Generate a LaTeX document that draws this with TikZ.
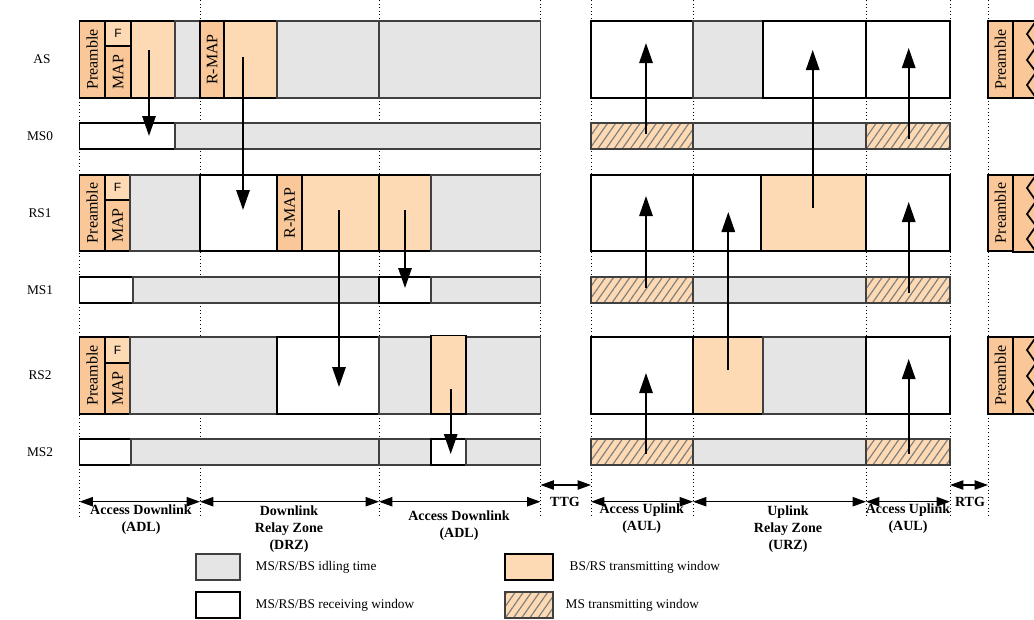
\documentclass[tikz,border=0pt]{standalone}
\usepackage{fontspec}
\setmainfont{Liberation Serif}
\setsansfont{Liberation Sans}
\usepackage{graphicx}
\usetikzlibrary{arrows.meta,positioning,patterns.meta}
\definecolor{idlegray}{RGB}{229,229,229}
\definecolor{txpeach}{RGB}{253,217,180}
\definecolor{ctrlpeach}{RGB}{250,200,152}
% one slot of the frame: style, name, x1, x2, y1, y2, text
\newcommand{\slotbox}[7]{%
  \node[#1,minimum width={(#4-#3)*0.75pt},minimum height={(#6-#5)*0.75pt}] (#2) at ({(#3+#4)/2},{(#5+#6)/2}) {#7};}

\begin{document}
\begin{tikzpicture}[x=0.75pt,y=-0.75pt,
  cellbase/.style={rectangle,inner sep=0pt,outer sep=0pt},
  idle/.style={cellbase,fill=idlegray,draw=black!75,line width=0.8pt},
  recv/.style={cellbase,fill=white,draw=black,line width=1.2pt},
  txw/.style={cellbase,fill=txpeach,draw=black,line width=1.3pt},
  ctrl/.style={cellbase,fill=ctrlpeach,draw=black,line width=1.3pt,font=\fontsize{12}{12}\selectfont},
  fbox/.style={cellbase,fill=txpeach,draw=black,line width=1.3pt,font=\sffamily\fontsize{9}{9}\selectfont},
  mstx/.style={cellbase,preaction={fill=txpeach},pattern={Lines[angle=55,distance=5pt,line width=0.9pt]},
    pattern color=gray,draw=black!75,line width=0.8pt},
  rowlab/.style={font=\fontsize{10}{12}\selectfont},
  zonelab/.style={font=\bfseries\fontsize{10.5}{12.75}\selectfont,align=center},
  leglab/.style={font=\fontsize{10}{12}\selectfont,anchor=west},
  sig/.style={-{Triangle[length=15pt,width=10pt]},line width=1.4pt},
  dim/.style={{Triangle[length=10pt,width=7pt]}-{Triangle[length=10pt,width=7pt]},line width=0.9pt},
  zone/.style={dotted,line width=0.7pt}
]
  \useasboundingbox (0,0) rectangle (1034,619);

  % zone boundaries
  \draw[zone] (79.5,98) -- (79.5,517);
  \foreach \bx in {200,379,540.5,591,693,866,950,988}
    \draw[zone] (\bx,0) -- (\bx,517);

  % row labels
  \node[rowlab] (lAS) at (42,59) {AS};
  \node[rowlab] (lMS0) at (40,136) {MS0};
  \node[rowlab] (lRS1) at (40,213) {RS1};
  \node[rowlab] (lMS1) at (40,290) {MS1};
  \node[rowlab] (lRS2) at (40,375) {RS2};
  \node[rowlab] (lMS2) at (40,452) {MS2};

  % AS
  \slotbox{ctrl}{asPre}{79.5}{105}{21}{98}{\rotatebox{90}{Preamble}}
  \slotbox{fbox}{asF}{105}{131}{21}{46}{F}
  \slotbox{ctrl}{asMap}{105}{131}{46}{98}{\rotatebox{90}{MAP}}
  \slotbox{txw}{asDl}{131}{175}{21}{98}{}
  \slotbox{idle}{asI1}{175}{200}{21}{98}{}
  \slotbox{ctrl}{asRmap}{200}{224}{21}{98}{\rotatebox{90}{R-MAP}}
  \slotbox{txw}{asDrz}{224}{277}{21}{98}{}
  \slotbox{idle}{asI2}{277}{379}{21}{98}{}
  \slotbox{idle}{asI3}{379}{540.5}{21}{98}{}
  \slotbox{recv}{asU1}{591}{693}{21}{98}{}
  \slotbox{idle}{asU2}{693}{763}{21}{98}{}
  \slotbox{recv}{asU3}{763}{866}{21}{98}{}
  \slotbox{recv}{asU4}{866}{950}{21}{98}{}

  % MS0
  \slotbox{recv}{msZR}{79.5}{175}{123}{149}{}
  \slotbox{idle}{msZI}{175}{540.5}{123}{149}{}
  \slotbox{mstx}{msZT1}{591}{693}{123}{149}{}
  \slotbox{idle}{msZI2}{693}{866}{123}{149}{}
  \slotbox{mstx}{msZT2}{866}{950}{123}{149}{}

  % RS1
  \slotbox{ctrl}{rsAPre}{79.5}{105}{175}{251}{\rotatebox{90}{Preamble}}
  \slotbox{fbox}{rsAF}{105}{130}{175}{200}{F}
  \slotbox{ctrl}{rsAMap}{105}{130}{200}{251}{\rotatebox{90}{MAP}}
  \slotbox{idle}{rsAI1}{130}{200}{175}{251}{}
  \slotbox{recv}{rsAR}{200}{277}{175}{251}{}
  \slotbox{ctrl}{rsARmap}{277}{302}{175}{251}{\rotatebox{90}{R-MAP}}
  \slotbox{txw}{rsADrz}{302}{379}{175}{251}{}
  \slotbox{txw}{rsADl}{379}{431}{175}{251}{}
  \slotbox{idle}{rsAI2}{431}{540.5}{175}{251}{}
  \slotbox{recv}{rsAU1}{591}{693}{175}{251}{}
  \slotbox{recv}{rsAU2}{693}{761}{175}{251}{}
  \slotbox{txw}{rsAU3}{761}{866}{175}{251}{}
  \slotbox{recv}{rsAU4}{866}{950}{175}{251}{}

  % MS1
  \slotbox{recv}{msAR1}{79.5}{133}{277}{303}{}
  \slotbox{idle}{msAI1}{133}{379}{277}{303}{}
  \slotbox{recv}{msAR2}{379}{431}{277}{303}{}
  \slotbox{idle}{msAI2}{431}{540.5}{277}{303}{}
  \slotbox{mstx}{msAT1}{591}{693}{277}{303}{}
  \slotbox{idle}{msAI3}{693}{866}{277}{303}{}
  \slotbox{mstx}{msAT2}{866}{950}{277}{303}{}

  % RS2
  \slotbox{ctrl}{rsBPre}{79.5}{105}{337}{414}{\rotatebox{90}{Preamble}}
  \slotbox{fbox}{rsBF}{105}{130}{337}{363}{F}
  \slotbox{ctrl}{rsBMap}{105}{130}{363}{414}{\rotatebox{90}{MAP}}
  \slotbox{idle}{rsBI1}{130}{277}{337}{414}{}
  \slotbox{recv}{rsBR}{277}{379}{337}{414}{}
  \slotbox{idle}{rsBI2}{379}{431}{337}{414}{}
  \slotbox{idle}{rsBI3}{466}{540.5}{337}{414}{}
  \slotbox{txw}{rsBDl}{431}{466}{335.5}{414}{}
  \slotbox{recv}{rsBU1}{591}{693}{337}{414}{}
  \slotbox{txw}{rsBU2}{693}{763}{337}{414}{}
  \slotbox{idle}{rsBU3}{763}{866}{337}{414}{}
  \slotbox{recv}{rsBU4}{866}{950}{337}{414}{}

  % MS2
  \slotbox{recv}{msBR1}{79.5}{131}{439}{465}{}
  \slotbox{idle}{msBI1}{131}{379}{439}{465}{}
  \slotbox{idle}{msBI2}{379}{431}{439}{465}{}
  \slotbox{recv}{msBR2}{431}{466}{439}{465}{}
  \slotbox{idle}{msBI3}{466}{540.5}{439}{465}{}
  \slotbox{mstx}{msBT1}{591}{693}{439}{465}{}
  \slotbox{idle}{msBI4}{693}{866}{439}{465}{}
  \slotbox{mstx}{msBT2}{866}{950}{439}{465}{}

  % next frame
  \slotbox{ctrl}{asPreN}{988}{1013}{21}{98}{\rotatebox{90}{Preamble}}
  \slotbox{ctrl}{rsAPreN}{988}{1013}{175}{251}{\rotatebox{90}{Preamble}}
  \slotbox{ctrl}{rsBPreN}{988}{1013}{337}{414}{\rotatebox{90}{Preamble}}
  \foreach \t in {21,175,337} {
    \fill[ctrlpeach] (1013,\t) rectangle (1040,{\t+77});
    \draw[line width=1.3pt] (1040,\t) -- (1013,\t) -- (1013,{\t+77}) -- (1040,{\t+77});
    \draw[line width=1.3pt] (1036,\t) -- (1027,{\t+13}) -- (1036,{\t+26}) -- (1027,{\t+39})
      -- (1036,{\t+51}) -- (1027,{\t+64}) -- (1036,{\t+77});
  }

  % downlink transmissions
  \coordinate (d1a) at (149,50);    \coordinate (d1b) at (149,136);
  \coordinate (d2a) at (243,57);    \coordinate (d2b) at (243,210);
  \coordinate (d3a) at (339,210);   \coordinate (d3b) at (339,387);
  \coordinate (d4a) at (405,210);   \coordinate (d4b) at (405,288);
  \coordinate (d5a) at (450.7,389); \coordinate (d5b) at (450.7,454);
  \draw[sig] (d1a) -- (d1b);
  \draw[sig] (d2a) -- (d2b);
  \draw[sig] (d3a) -- (d3b);
  \draw[sig] (d4a) -- (d4b);
  \draw[sig] (d5a) -- (d5b);

  % uplink transmissions
  \coordinate (u1a) at (646,134);   \coordinate (u1b) at (646,43);
  \coordinate (u2a) at (908.7,139); \coordinate (u2b) at (908.7,48);
  \coordinate (u3a) at (812.7,208); \coordinate (u3b) at (812.7,50);
  \coordinate (u4a) at (646,288);   \coordinate (u4b) at (646,196);
  \coordinate (u5a) at (908.7,293); \coordinate (u5b) at (908.7,202);
  \coordinate (u6a) at (728.3,370); \coordinate (u6b) at (728.3,212);
  \coordinate (u7a) at (646,454);   \coordinate (u7b) at (646,373);
  \coordinate (u8a) at (908.7,454); \coordinate (u8b) at (908.7,359);
  \foreach \k in {1,...,8}
    \draw[sig] (u\k a) -- (u\k b);

  % zones
  \coordinate (z0) at (79.5,501.7);  \coordinate (z1) at (200,501.7);
  \coordinate (z2) at (379,501.7);   \coordinate (z3) at (540.5,501.7);
  \coordinate (z4) at (591,501.7);   \coordinate (z5) at (693,501.7);
  \coordinate (z6) at (866,501.7);   \coordinate (z7) at (950,501.7);
  \coordinate (g0) at (540.5,485);   \coordinate (g1) at (591,485);
  \coordinate (g2) at (950,485);     \coordinate (g3) at (988,485);
  \draw[dim] (z0) -- (z1);
  \draw[dim] (z1) -- (z2);
  \draw[dim] (z2) -- (z3);
  \draw[dim] (z4) -- (z5);
  \draw[dim] (z5) -- (z6);
  \draw[dim] (z6) -- (z7);
  \draw[dim] (g0) -- (g1);
  \draw[dim] (g2) -- (g3);
  \node[zonelab] (adlA) at (141,519.4) {Access Downlink\\(ADL)};
  \node[zonelab] (drz) at (289,529) {Downlink\\Relay Zone\\(DRZ)};
  \node[zonelab] (adlB) at (459,525.4) {Access Downlink\\(ADL)};
  \node[zonelab] (ttg) at (565,501.7) {TTG};
  \node[zonelab] (aulA) at (641.7,518.4) {Access Uplink\\(AUL)};
  \node[zonelab] (urz) at (788,529) {Uplink\\Relay Zone\\(URZ)};
  \node[zonelab] (aulB) at (908,518.5) {Access Uplink\\(AUL)};
  \node[zonelab] (rtg) at (970,501.7) {RTG};

  % legend
  \slotbox{idle}{lgIdle}{196}{240}{554}{580}{}
  \slotbox{recv}{lgRecv}{196}{240}{592}{618}{}
  \slotbox{txw}{lgTx}{505}{553}{554}{580}{}
  \slotbox{mstx}{lgMs}{505}{553}{592}{618}{}
  \node[leglab] (tIdle) at (251,567) {MS/RS/BS idling time};
  \node[leglab] (tRecv) at (251,605) {MS/RS/BS receiving window};
  \node[leglab] (tTx) at (565,567) {BS/RS transmitting window};
  \node[leglab] (tMs) at (561,605) {MS transmitting window};
\end{tikzpicture}
\end{document}
